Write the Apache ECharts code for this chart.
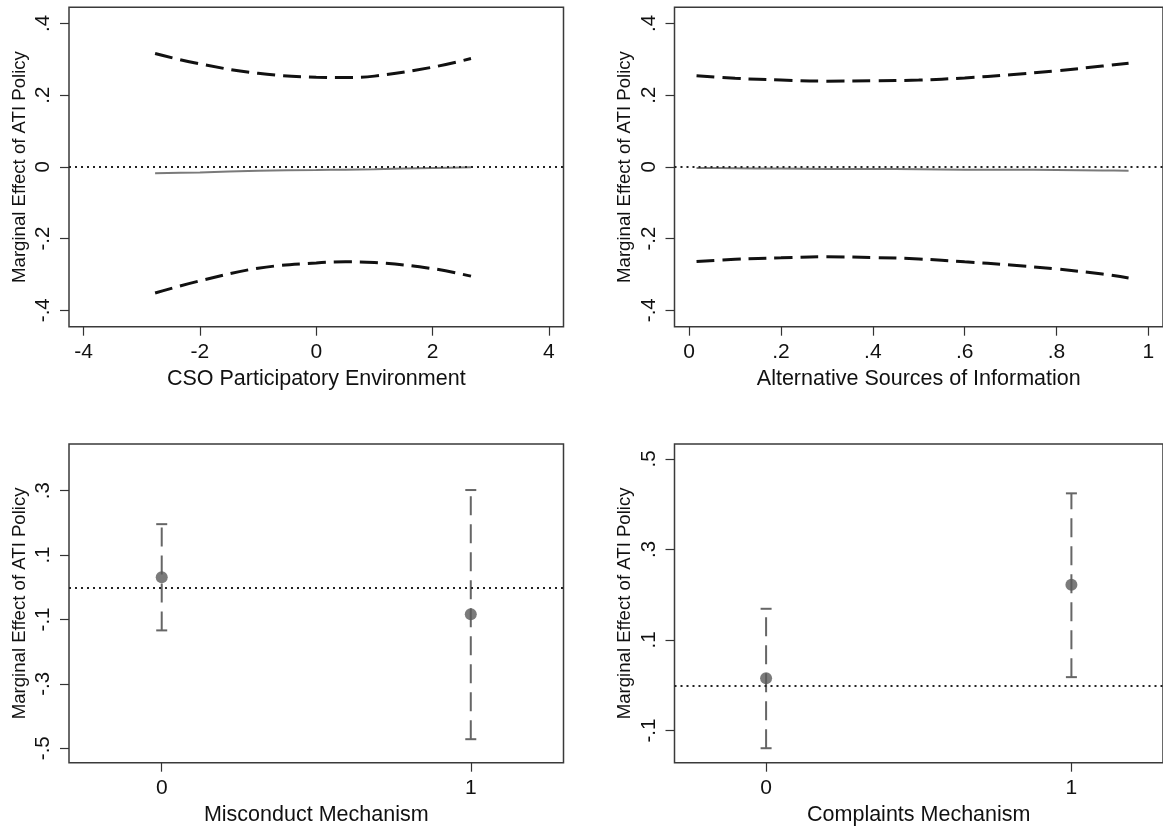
<!DOCTYPE html>
<html><head><meta charset="utf-8">
<script src="https://cdn.jsdelivr.net/npm/echarts@6/dist/echarts.min.js"></script>
<style>html,body{margin:0;padding:0;background:#fff}#c{width:1163px;height:831px}</style>
</head><body><div id="c"></div>
<script>
const yTitle = 'Marginal Effect of ATI Policy';

// Panel 1: CSO Participatory Environment
const p1Title = 'CSO Participatory Environment';
const p1X      = [-2.77, -2, -1, 0, 0.5, 1, 2, 2.66];
const p1Upper  = [0.316, 0.287, 0.261, 0.250, 0.249, 0.253, 0.278, 0.302];
const p1Lower  = [-0.352, -0.318, -0.283, -0.268, -0.265, -0.267, -0.284, -0.305];
const p1Effect = [-0.018, -0.0155, -0.011, -0.009, -0.008, -0.007, -0.003, -0.0015];
const p1XTicks = [-4, -2, 0, 2, 4];
const p1YTicks = [-0.4, -0.2, 0, 0.2, 0.4];

// Panel 2: Alternative Sources of Information
const p2Title = 'Alternative Sources of Information';
const p2X      = [0.016, 0.1, 0.2, 0.3, 0.4, 0.5, 0.6, 0.7, 0.8, 0.9, 0.957];
const p2Upper  = [0.254, 0.247, 0.242, 0.239, 0.240, 0.242, 0.248, 0.257, 0.268, 0.281, 0.289];
const p2Lower  = [-0.264, -0.258, -0.254, -0.251, -0.253, -0.257, -0.265, -0.274, -0.285, -0.299, -0.310];
const p2Effect = [-0.003, -0.004, -0.005, -0.006, -0.006, -0.007, -0.008, -0.008, -0.009, -0.010, -0.011];
const p2XTicks = [0, 0.2, 0.4, 0.6, 0.8, 1];
const p2YTicks = [-0.4, -0.2, 0, 0.2, 0.4];

// Panel 3: Misconduct Mechanism
const p3Title = 'Misconduct Mechanism';
const p3Cats = [0, 1];
const p3Est  = [0.031, -0.084];
const p3Low  = [-0.134, -0.472];
const p3High = [0.196, 0.302];
const p3XTicks = [0, 1];
const p3YTicks = [-0.5, -0.3, -0.1, 0.1, 0.3];

// Panel 4: Complaints Mechanism
const p4Title = 'Complaints Mechanism';
const p4Cats = [0, 1];
const p4Est  = [0.0155, 0.222];
const p4Low  = [-0.139, 0.018];
const p4High = [0.169, 0.424];
const p4XTicks = [0, 1];
const p4YTicks = [-0.1, 0.1, 0.3, 0.5];

const FONT = 'Liberation Sans, Arial, Helvetica, sans-serif';
function fmt(v){
  const r = Math.round(v*10)/10;
  if (r === 0) return '0';
  const s = Math.abs(r).toString().replace(/^0/, '');
  return (r < 0 ? '-' : '') + s;
}
const grids = [
  {left: 69,    top: 7.3, width: 494.5, height: 319.4},
  {left: 674.5, top: 7.3, width: 494.5, height: 319.4},
  {left: 69,    top: 444, width: 494.5, height: 318.7},
  {left: 674.5, top: 444, width: 494.5, height: 318.7}
].map(g => Object.assign(g, {show: true, borderColor: '#3a3a3a', borderWidth: 1.5, backgroundColor: 'transparent'}));

function xAxis(i, min, max, ticks, name){
  return {type: 'value', gridIndex: i, min, max, name, nameLocation: 'middle', nameGap: 41,
    nameTextStyle: {fontFamily: FONT, fontSize: 21.5, color: '#111'},
    axisLine: {show: false, onZero: false}, splitLine: {show: false},
    axisTick: {show: true, inside: false, length: 9, customValues: ticks, lineStyle: {color: '#333', width: 1.2}},
    axisLabel: {customValues: ticks, formatter: fmt, margin: 15, fontFamily: FONT, fontSize: 21, color: '#111'}};
}
function yAxis(i, min, max, ticks){
  return {type: 'value', gridIndex: i, min, max, name: yTitle, nameLocation: 'middle', nameGap: 40, nameRotate: 90,
    nameTextStyle: {fontFamily: FONT, fontSize: 18.6, color: '#111'},
    axisLine: {show: false, onZero: false}, splitLine: {show: false},
    axisTick: {show: true, inside: false, length: 9, customValues: ticks, lineStyle: {color: '#333', width: 1.2}},
    axisLabel: {customValues: ticks, formatter: fmt, rotate: 90, margin: 15, fontFamily: FONT, fontSize: 20.5, color: '#111'}};
}
const zeroLine = {silent: true, symbol: 'none', label: {show: false},
  lineStyle: {type: [2, 4], color: '#222', width: 2}, data: [{yAxis: 0}]};

function pairs(xs, ys){ return xs.map((x, k) => [x, ys[k]]); }
function ciLine(i, xs, ys){
  return {type: 'line', xAxisIndex: i, yAxisIndex: i, data: pairs(xs, ys), smooth: 0.4, showSymbol: false,
    lineStyle: {color: '#111', width: 3, type: [18, 8]}, z: 3};
}
function effLine(i, xs, ys){
  return {type: 'line', xAxisIndex: i, yAxisIndex: i, data: pairs(xs, ys), smooth: 0.3, showSymbol: false,
    lineStyle: {color: '#7a7a7a', width: 2}, markLine: zeroLine, z: 2};
}
function errRender(params, api){
  const x = api.value(0), lo = api.value(1), hi = api.value(2);
  const a = api.coord([x, lo]), b = api.coord([x, hi]);
  const hw = 5.5, st = {stroke: '#666', lineWidth: 2};
  return {type: 'group', children: [
    {type: 'line', shape: {x1: a[0], y1: a[1], x2: b[0], y2: b[1]}, style: {stroke: '#666', lineWidth: 2, lineDash: [19, 9]}},
    {type: 'line', shape: {x1: b[0]-hw, y1: b[1], x2: b[0]+hw, y2: b[1]}, style: st},
    {type: 'line', shape: {x1: a[0]-hw, y1: a[1], x2: a[0]+hw, y2: a[1]}, style: st}
  ]};
}
function errSeries(i, cats, lo, hi){
  return {type: 'custom', xAxisIndex: i, yAxisIndex: i, renderItem: errRender,
    encode: {x: 0, y: [1, 2]}, data: cats.map((c, k) => [c, lo[k], hi[k]]), z: 3, markLine: zeroLine};
}
function ptSeries(i, cats, est){
  return {type: 'scatter', xAxisIndex: i, yAxisIndex: i, data: pairs(cats, est), symbol: 'circle', symbolSize: 12,
    itemStyle: {color: '#5a5a5a'}, z: 5};
}

const chart = echarts.init(document.getElementById('c'), null, {renderer: 'canvas'});
chart.setOption({
  animation: false,
  backgroundColor: '#fff',
  grid: grids,
  xAxis: [
    xAxis(0, -4.25, 4.25, p1XTicks, p1Title),
    xAxis(1, -0.032, 1.032, p2XTicks, p2Title),
    xAxis(2, -0.3, 1.3, p3XTicks, p3Title),
    xAxis(3, -0.3, 1.3, p4XTicks, p4Title)
  ],
  yAxis: [
    yAxis(0, -0.446, 0.445, p1YTicks),
    yAxis(1, -0.446, 0.445, p2YTicks),
    yAxis(2, -0.545, 0.445, p3YTicks),
    yAxis(3, -0.171, 0.533, p4YTicks)
  ],
  series: [
    effLine(0, p1X, p1Effect), ciLine(0, p1X, p1Upper), ciLine(0, p1X, p1Lower),
    effLine(1, p2X, p2Effect), ciLine(1, p2X, p2Upper), ciLine(1, p2X, p2Lower),
    errSeries(2, p3Cats, p3Low, p3High), ptSeries(2, p3Cats, p3Est),
    errSeries(3, p4Cats, p4Low, p4High), ptSeries(3, p4Cats, p4Est)
  ]
});
</script></body></html>
